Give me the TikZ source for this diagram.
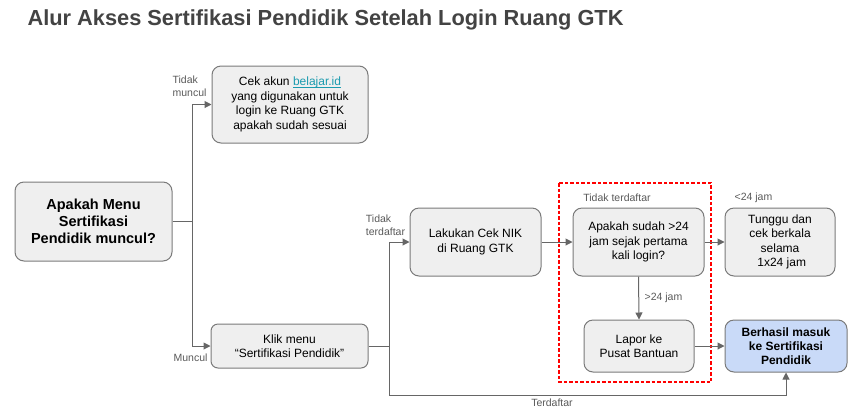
\documentclass[tikz,border=0pt]{standalone}
\usepackage{fontspec}
\setmainfont{Liberation Sans}
\usetikzlibrary{arrows.meta}
\definecolor{boxgray}{HTML}{EFEFEF}
\definecolor{edgegray}{HTML}{7A7A7A}
\definecolor{linegray}{HTML}{666666}
\definecolor{labelgray}{HTML}{595959}
\definecolor{okblue}{HTML}{C9DAF8}
\definecolor{linkteal}{HTML}{1A9BAF}
\definecolor{titlegray}{HTML}{434343}
\definecolor{dashred}{rgb}{1,0,0}
\newcommand\linkline[1]{\setbox0\hbox{#1}\rlap{\rule[-1.6pt]{\wd0}{0.8pt}}\box0}

\begin{document}
\begin{tikzpicture}[x=1pt,y=-1pt,
	box/.style={draw=edgegray,fill=boxgray,line width=1pt,rounded corners=9pt,inner sep=0pt,align=center,font=\fontsize{12}{14.5}\selectfont},
	lbl/.style={text=labelgray,inner sep=0pt,align=left,font=\fontsize{10.5}{13}\selectfont},
	arr/.style={draw=linegray,line width=1pt,-{Triangle[length=7pt,width=7pt]}}]
		\useasboundingbox (0,0) rectangle (858,416);
		\node[anchor=west,text=titlegray,font=\fontsize{21.8}{26}\bfseries] (title) at (24,20) {Alur Akses Sertifikasi Pendidik Setelah Login Ruang GTK};
		\draw[dashred,line width=1.2pt,dash pattern=on 3.5pt off 2pt] (559,183) rectangle (711,382);
		\node[box,minimum width=157pt,minimum height=79pt,font=\fontsize{14.5}{17}\bfseries] (qmenu) at (93.5,221.5) {Apakah Menu\\Sertifikasi\\Pendidik muncul?};
		\node[box,minimum width=156pt,minimum height=77pt] (cekakun) at (290,104.5) {Cek akun \textcolor{linkteal}{\linkline{belajar.id}}\\yang digunakan untuk\\login ke Ruang GTK\\apakah sudah sesuai};
		\node[box,minimum width=157pt,minimum height=44pt,rounded corners=7pt] (klik) at (289.5,346) {Klik menu\\“Sertifikasi Pendidik”};
		\node[box,minimum width=131pt,minimum height=68pt] (ceknik) at (475.5,242) {Lakukan Cek NIK\\di Ruang GTK};
		\node[box,minimum width=131pt,minimum height=68pt] (qjam) at (638.5,242) {Apakah sudah >24\\jam sejak pertama\\kali login?};
		\node[box,minimum width=110pt,minimum height=68pt] (tunggu) at (780,242) {Tunggu dan\\cek berkala\\selama\\\ 1x24 jam};
		\node[box,minimum width=110pt,minimum height=52pt] (lapor) at (639,346) {Lapor ke\\Pusat Bantuan};
		\node[box,fill=okblue,minimum width=122pt,minimum height=52pt,font=\fontsize{12}{14}\bfseries] (berhasil) at (786,346) {Berhasil masuk\\ke Sertifikasi\\Pendidik};
		\coordinate (bottomrun) at (389,395);
		\draw[arr] (qmenu.east) -- ++(20,0) |- (cekakun.west);
		\draw[arr] (qmenu.east) -- ++(20,0) |- (klik.west);
		\draw[arr] (klik.east) -- ++(21,0) |- (ceknik.west);
		\draw[arr] (klik.east) -| (bottomrun) -| (berhasil.south);
		\draw[arr] (ceknik.east) -- (qjam.west);
		\draw[arr] (qjam.east) -- (tunggu.west);
		\draw[arr] (qjam.south) -- (lapor.north);
		\draw[arr] (lapor.east) -- (berhasil.west);
		\node[lbl] (lmuncul0) at (189.5,86.5) {Tidak\\muncul};
		\node[lbl] (lmuncul1) at (190.5,358) {Muncul};
		\node[lbl] (lterdaftar0) at (385.5,225.5) {Tidak\\terdaftar};
		\node[lbl] (lterdaftar1) at (552,403) {Terdaftar};
		\node[lbl] (lterdaftar2) at (617,198) {Tidak terdaftar};
		\node[lbl] (lkurang) at (753.5,198) {<24 jam};
		\node[lbl] (llebih) at (663.5,298) {>24 jam};
	\end{tikzpicture}
\end{document}
